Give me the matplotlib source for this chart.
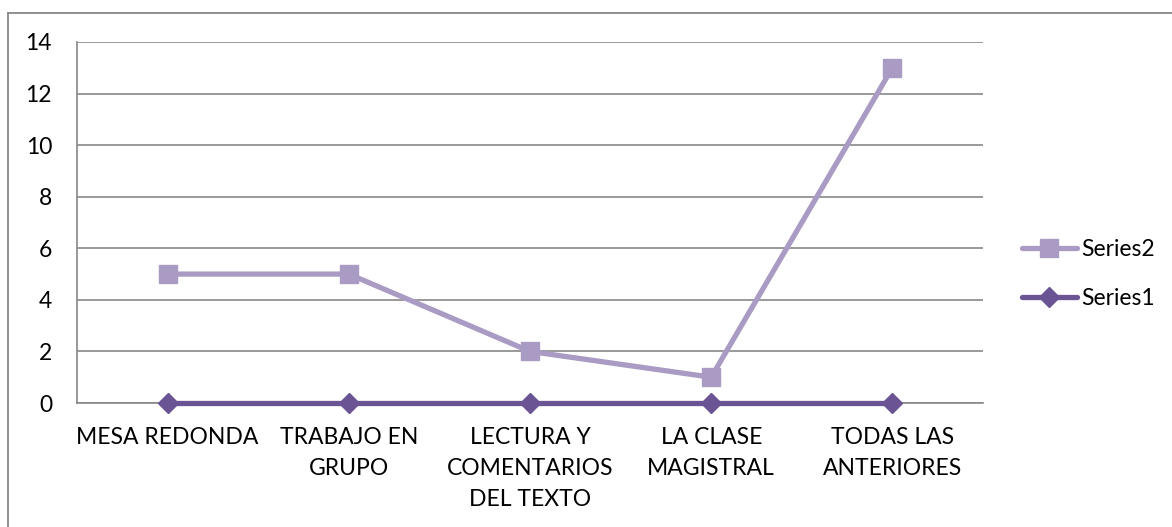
import matplotlib.pyplot as plt
from matplotlib.lines import Line2D

categories = ["MESA REDONDA", "TRABAJO EN\nGRUPO", "LECTURA Y\nCOMENTARIOS\nDEL TEXTO",
              "LA CLASE\nMAGISTRAL", "TODAS LAS\nANTERIORES"]
series1 = [0, 0, 0, 0, 0]
series2 = [5, 5, 2, 1, 13]

plt.rcParams['font.family'] = ['Lato', 'DejaVu Sans']
fs = 16.5

fig = plt.figure(figsize=(11.72, 5.27), dpi=100)
ax = fig.add_axes([77 / 1172, 1 - 403 / 527, (983 - 77) / 1172, (403 - 42) / 527])

x = [i + 0.5 for i in range(len(categories))]
ax.plot(x, series2, color="#A99BC3", lw=3.8, marker="s", ms=13, label="Series2",
        solid_capstyle="round", zorder=3)
ax.plot(x, series1, color="#6B5494", lw=3.8, marker="D", ms=10, label="Series1",
        solid_capstyle="round", zorder=4, clip_on=False)

ax.set_xlim(0, len(categories))
ax.set_ylim(0, 14)
ax.set_yticks(range(0, 15, 2))
ax.set_xticks(x)
ax.set_xticklabels(categories, fontsize=fs, linespacing=1.6)
ax.tick_params(axis="both", length=0, labelsize=fs)
ax.tick_params(axis="x", pad=17)
ax.tick_params(axis="y", pad=18)
ax.grid(axis="y", color="#878787", lw=1.2)
ax.set_axisbelow(True)
for s in ["top", "right"]:
    ax.spines[s].set_visible(False)
for s in ["left", "bottom"]:
    ax.spines[s].set_color("#878787")
    ax.spines[s].set_linewidth(1.2)

ax.legend(loc="center left", bbox_to_anchor=(1.043, 0.357), frameon=False, fontsize=fs,
          handlelength=2.4, handletextpad=0.2, labelspacing=1.25, borderpad=0,
          borderaxespad=0)

# outer chart frame
fig.add_artist(Line2D([8 / 1172, 1.0], [1 - 13 / 527, 1 - 13 / 527], color="#878787", lw=1.3))
fig.add_artist(Line2D([8 / 1172, 8 / 1172], [0, 1 - 13 / 527], color="#878787", lw=1.3))

fig.savefig("out.png", dpi=100)
